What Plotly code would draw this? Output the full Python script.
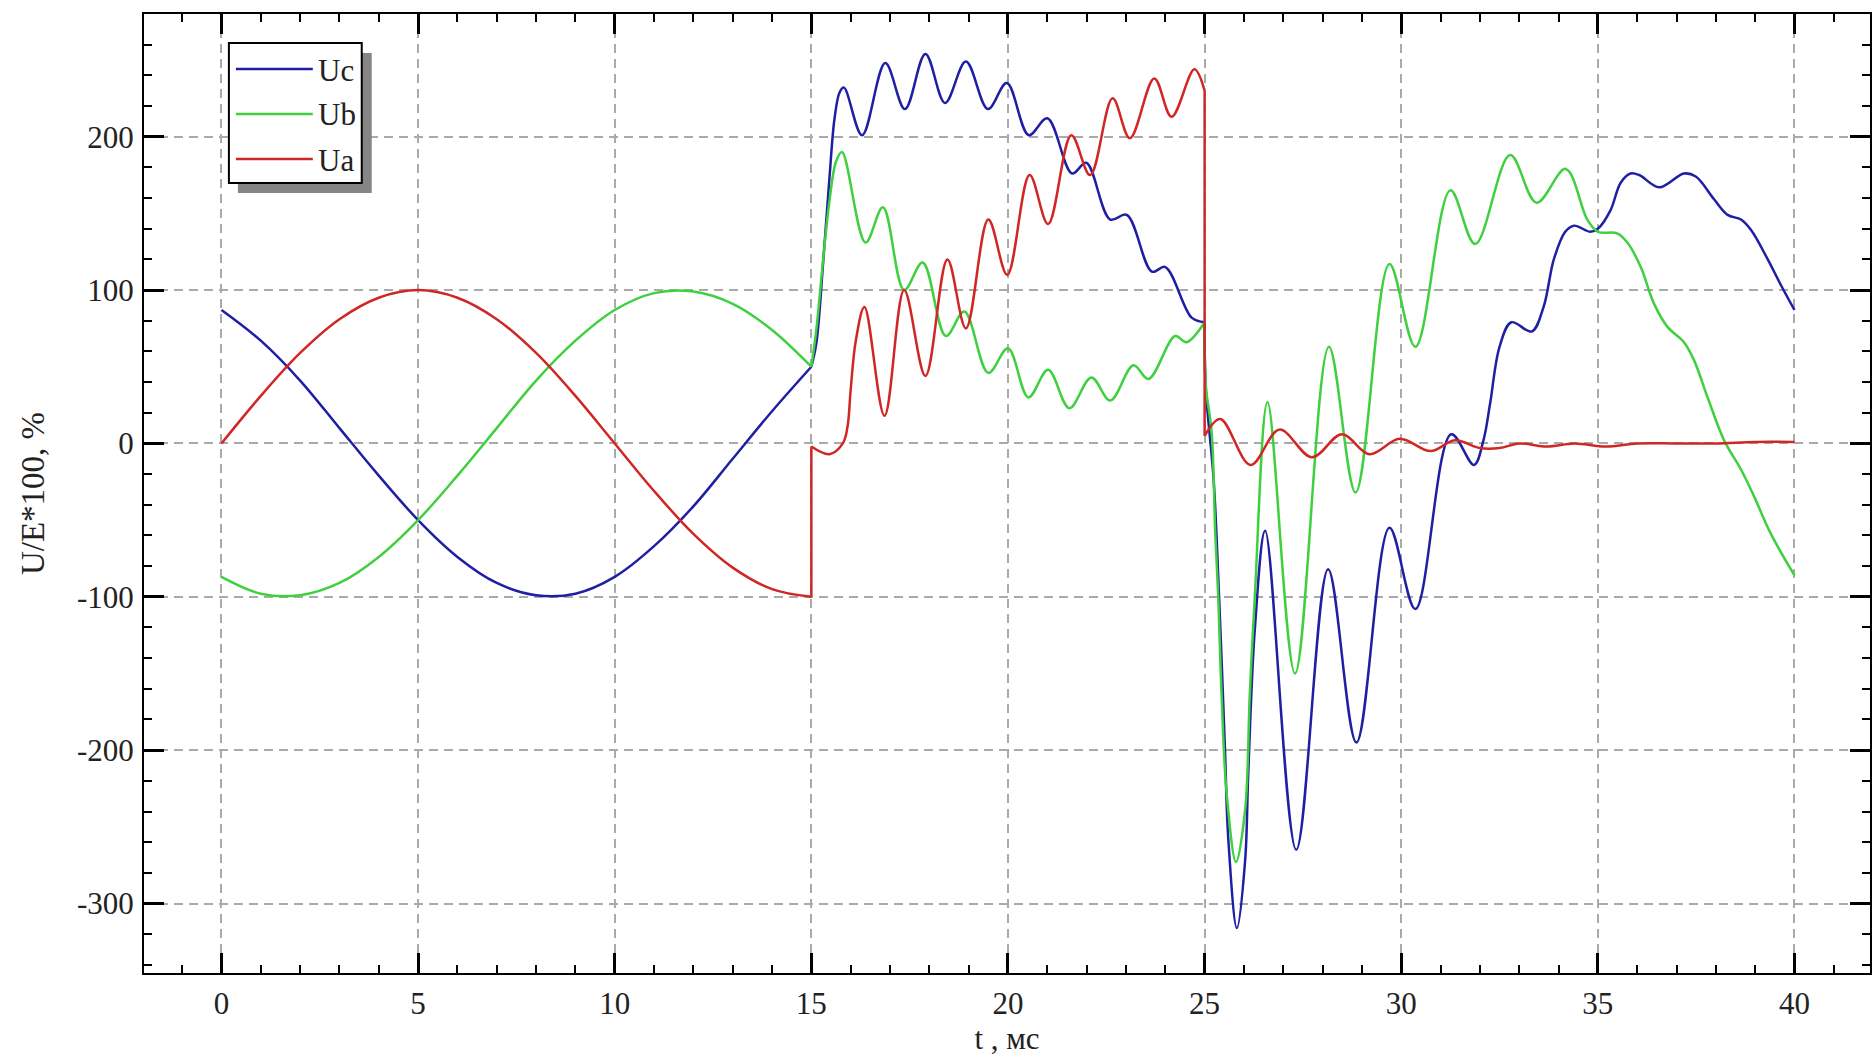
import plotly.graph_objects as go

# ---------------- data ----------------
T_SINE = [0, 1, 2, 3, 4, 5, 6, 7, 8, 9, 10, 11, 12, 13, 14, 15]
UC_SINE = [87, 67, 41, 10, -21, -50, -74, -91, -99, -98, -87, -67, -41, -10, 21, 50]
UB_SINE = [-87, -98, -99, -91, -74, -50, -21, 10, 41, 67, 87, 98, 99, 91, 74, 50]
UA_SINE = [0, 31, 59, 81, 95, 100, 95, 81, 59, 31, 0, -31, -59, -81, -95, -100]

# 15 .. 25 ms
T_UC_2 = [15, 15.13, 15.3, 15.46, 15.59, 15.72, 15.83, 16.29, 16.88, 17.38, 17.9, 18.4, 18.93,
          19.49, 19.97, 20.53, 21.0, 21.63, 21.99, 22.6, 23.02, 23.66, 24.0, 24.67, 25.0]
UC_2 = [50, 66, 118, 173, 212, 229, 232, 201, 248, 218, 254, 222, 249,
        218, 235, 201, 212, 176, 183, 146, 149, 112, 115, 82, 79]

T_UB_2 = [15, 15.13, 15.3, 15.46, 15.63, 15.78, 16.38, 16.82, 17.36, 17.83, 18.42, 18.89, 19.5,
          20.0, 20.52, 21.02, 21.56, 22.12, 22.6, 23.19, 23.57, 24.25, 24.54, 25.0]
UB_2 = [50, 75, 120, 158, 184, 190, 131, 154, 100, 118, 70, 86, 46,
        62, 30, 48, 23, 43, 28, 51, 42, 70, 66, 79]

T_UA_2 = [15, 15.46, 15.8, 15.92, 16.0, 16.13, 16.35, 16.86, 17.36, 17.9, 18.46, 18.93, 19.5,
          19.98, 20.55, 21.02, 21.61, 22.09, 22.66, 23.1, 23.72, 24.16, 24.74, 25.0]
UA_2 = [-2, -7, 0, 11, 35, 67, 89, 18, 100, 44, 120, 75, 146,
        110, 175, 143, 201, 175, 225, 199, 238, 213, 244, 230]

# 25 .. 40 ms
T_UC_3 = [25.0, 25.03, 25.23, 25.36, 25.52, 25.6, 25.82, 26.03, 26.11, 26.28, 26.54, 27.33, 28.14,
          28.86, 29.7, 30.36, 31.27, 31.85, 32.09, 32.26, 32.5, 32.8, 33.32, 33.62, 33.88, 34.17,
          34.39, 34.81, 35.0, 35.32, 35.58, 35.83, 36.05, 36.56, 37.19, 37.49, 37.96, 38.3, 38.64,
          38.9, 39.32, 39.66, 40.0]
UC_3 = [79, 36, -24, -95, -201, -257, -316, -272, -215, -120, -57, -265, -82,
        -195, -55, -108, 6, -14, 2, 26, 63, 79, 73, 89, 120, 138,
        142, 138, 140, 152, 170, 176, 175, 167, 176, 174, 159, 149, 146,
        139, 120, 103, 87]

T_UB_3 = [25.0, 25.03, 25.18, 25.27, 25.35, 25.43, 25.56, 25.8, 26.03, 26.15, 26.28, 26.6, 27.3,
          28.16, 28.84, 29.7, 30.36, 31.25, 31.88, 32.77, 33.44, 34.18, 34.73, 35.0, 35.49, 35.75,
          36.09, 36.43, 36.77, 37.19, 37.45, 37.79, 38.21, 38.64, 38.98, 39.4, 40.0]
UB_3 = [79, 38, 7, -58, -102, -163, -228, -273, -239, -163, -98, 27, -150,
        63, -32, 117, 63, 165, 130, 188, 157, 179, 146, 138, 137, 131,
        115, 91, 76, 66, 54, 30, 2, -17, -35, -59, -86]

T_UA_3 = [25.0, 25.4, 26.17, 26.9, 27.73, 28.49, 29.19, 29.96, 30.75, 31.36, 32.0, 32.5, 33.0,
          33.7, 34.4, 35.2, 36.0, 37.0, 38.0, 39.0, 40.0]
UA_3 = [5, 16, -14, 9, -9, 6, -7, 3, -5, 2, -3, -3, 0,
        -2, 0, -2, 0, 0, 0, 1, 1]

SERIES = ["Uc", "Ub", "Ua"]
COLORS = {"Uc": "#1f1fa3", "Ub": "#3fd03f", "Ua": "#d02626"}

X_TICKS = [0, 5, 10, 15, 20, 25, 30, 35, 40]
Y_TICKS = [-300, -200, -100, 0, 100, 200]
X_TITLE = "t , мс"
Y_TITLE = "U/E*100, %"

segments = {
    "Uc": [(T_SINE, UC_SINE), (T_UC_2, UC_2), (T_UC_3, UC_3)],
    "Ub": [(T_SINE, UB_SINE), (T_UB_2, UB_2), (T_UB_3, UB_3)],
    "Ua": [(T_SINE, UA_SINE), (T_UA_2, UA_2), (T_UA_3, UA_3)],
}

# ---------------- layout geometry ----------------
W, H = 1872, 1059
ML, MR, MT, MB = 144, 0, 14, 86
PW, PH = W - ML - MR, H - MT - MB

FONT = "Liberation Serif, Times New Roman, serif"
FS = 31
TXT = "#222222"

fig = go.Figure()

for name in SERIES:
    col = COLORS[name]
    xs, ys = [], []
    for k, (tt, vv) in enumerate(segments[name]):
        if k > 0:
            xs.append(None)
            ys.append(None)
        xs.extend(tt)
        ys.extend(vv)
    fig.add_trace(go.Scatter(x=xs, y=ys, mode="lines", name=name,
                             line=dict(color=col, width=2.5, shape="spline", smoothing=1.0),
                             showlegend=False))
    # straight jumps between segments
    segs = segments[name]
    for a, b in zip(segs[:-1], segs[1:]):
        fig.add_trace(go.Scatter(x=[a[0][-1], b[0][0]], y=[a[1][-1], b[1][0]], mode="lines",
                                 line=dict(color=col, width=2.5), showlegend=False,
                                 hoverinfo="skip"))

axis_common = dict(
    showline=True, linecolor="black", linewidth=2, mirror="ticks",
    ticks="inside", ticklen=20, tickwidth=3, tickcolor="black",
    showgrid=True, gridcolor="#aaaaaa", gridwidth=1.5, griddash="9px,6px",
    zeroline=False,
    tickfont=dict(family=FONT, size=FS, color=TXT),
)

fig.update_xaxes(
    range=[-1.97, 41.92], tickvals=X_TICKS, ticktext=[str(v) for v in X_TICKS],
    minor=dict(dtick=1, tick0=0, ticks="inside", ticklen=8, tickwidth=1.5, tickcolor="black", showgrid=False),
    title=dict(text=X_TITLE, font=dict(family=FONT, size=FS, color=TXT), standoff=2),
    ticklabelstandoff=2,
    **axis_common,
)
fig.update_yaxes(
    range=[-345.3, 280], tickvals=Y_TICKS, ticktext=[str(v) for v in Y_TICKS],
    minor=dict(dtick=20, tick0=0, ticks="inside", ticklen=8, tickwidth=1.5, tickcolor="black", showgrid=False),
    title=dict(text=Y_TITLE, font=dict(family=FONT, size=33, color=TXT), standoff=22),
    ticklabelstandoff=2,
    **axis_common,
)

# ---------------- hand-drawn legend box (pixel -> paper) ----------------
def px(x):
    return (x - ML) / PW

def py(y):
    return (H - MB - y) / PH

shapes = []
shapes.append(dict(type="rect", xref="paper", yref="paper", x0=px(238), x1=px(372), y0=py(193), y1=py(53),
                   fillcolor="#858585", line=dict(width=0), layer="above"))
shapes.append(dict(type="rect", xref="paper", yref="paper", x0=px(229), x1=px(362), y0=py(183), y1=py(43),
                   fillcolor="white", line=dict(color="black", width=2), layer="above"))
annotations = []
row_y = [69, 114, 159]
for name, ry in zip(SERIES, row_y):
    shapes.append(dict(type="line", xref="paper", yref="paper", x0=px(236), x1=px(313), y0=py(ry), y1=py(ry),
                       line=dict(color=COLORS[name], width=2.5), layer="above"))
    annotations.append(dict(text=name, xref="paper", yref="paper", x=px(316), y=py(ry + 1),
                            xanchor="left", yanchor="middle", showarrow=False,
                            font=dict(family=FONT, size=FS, color=TXT)))

fig.update_layout(
    width=W, height=H,
    margin=dict(l=ML, r=MR, t=MT, b=MB),
    paper_bgcolor="white", plot_bgcolor="white",
    shapes=shapes, annotations=annotations,
    showlegend=False,
)

fig.write_html("out.html", config={"displayModeBar": False},
               post_script="document.body.style.margin='0';document.body.style.overflow='hidden';")
